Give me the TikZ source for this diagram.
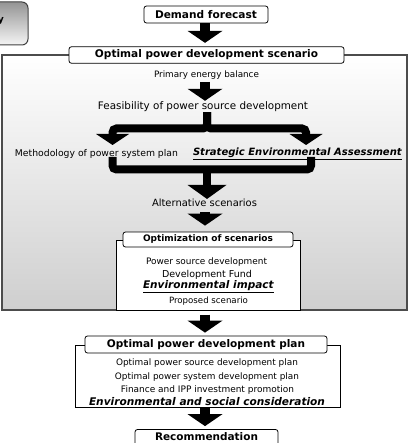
\documentclass[tikz,border=0pt]{standalone}
\usepackage{fontspec}
\setmainfont{DejaVu Sans}
\usetikzlibrary{arrows.meta,shadings}
\newcommand{\fw}[2]{\resizebox{#1pt}{!}{#2}}
\newcommand{\ebi}[1]{\underline{\textbf{\textit{#1}}}}
\tikzset{
  titlebox/.style={draw=black, line width=0.8pt, rounded corners=2.5pt, fill=white, inner sep=0pt},
  framebox/.style={draw=black, line width=0.8pt, fill=white, inner sep=0pt},
  txt/.style={inner sep=0pt},
  bigarrow/.style={line width=10pt, -{Triangle[width=35pt,length=12pt,line width=0pt]}},
  forkline/.style={line width=8pt, rounded corners=4pt},
  forkhead/.style={-{Triangle[width=33pt,length=11pt,line width=0pt]}},
  mergehead/.style={-{Triangle[width=39pt,length=14pt,line width=0pt]}}
}
\begin{document}
\begin{tikzpicture}[x=1pt,y=-1pt]
\useasboundingbox (0,0) rectangle (408,443);
% top-left tab
\shade[top color=black!42, bottom color=black!4, draw=black!75, line width=1pt, rounded corners=6pt] (-20,2) rectangle (28,45);
\node[txt] (ylab) at (1,21) {\fw{6}{\textbf{y}}};
% big gray panel
\node[draw=black!70, line width=1.4pt, top color=white, bottom color=black!19, minimum width=405pt, minimum height=255pt, inner sep=0pt] (panel) at (204.5,182.5) {};
% optimization frame
\node[framebox, minimum width=184pt, minimum height=70pt] (optframe) at (208,275) {};
% plan frame
\node[framebox, minimum width=265pt, minimum height=62pt] (planframe) at (207.5,376) {};
% title boxes
\node[titlebox, minimum width=124pt, minimum height=17pt] (demand) at (206,14.5) {\fw{102}{\textbf{Demand forecast}}};
\node[titlebox, minimum width=275pt, minimum height=16.5pt] (scen) at (206.5,55) {\fw{223}{\textbf{Optimal power development scenario}}};
\node[titlebox, minimum width=170pt, minimum height=15pt] (opt) at (208,239.5) {\fw{130}{\textbf{Optimization of scenarios}}};
\node[titlebox, minimum width=242pt, minimum height=17pt] (plan) at (206,344.5) {\fw{198}{\textbf{Optimal power development plan}}};
\node[titlebox, minimum width=143pt, minimum height=18pt] (rec) at (206.5,438.5) {};
\node[txt] (rectxt) at (206.5,437) {\fw{103}{\textbf{Recommendation}}};
% texts in panel
\node[txt] (prim) at (206.5,75) {\fw{105}{Primary energy balance}};
\node[txt] (feas) at (203,107) {\fw{210}{Feasibility of power source development}};
\node[txt] (meth) at (96.5,154) {\fw{163}{Methodology of power system plan}};
\node[txt] (sea) at (297.5,154) {\fw{209}{\ebi{Strategic Environmental Assessment}}};
\node[txt] (alt) at (204.5,203) {\fw{105}{Alternative scenarios}};
\node[txt] (psd) at (206.5,262) {\fw{121}{Power source development}};
\node[txt] (fund) at (207,275) {\fw{90}{Development Fund}};
\node[txt] (envi) at (208.5,287) {\fw{131}{\ebi{Environmental impact}}};
\node[txt] (prop) at (208.5,301) {\fw{79}{Proposed scenario}};
\node[txt] (ops) at (207,363) {\fw{182}{Optimal power source development plan}};
\node[txt] (osy) at (207,377) {\fw{184}{Optimal power system development plan}};
\node[txt] (fin) at (207.5,390) {\fw{173}{Finance and IPP investment promotion}};
\node[txt] (envs) at (207,403) {\fw{236}{\ebi{Environmental and social consideration}}};
% coordinates for fork and merge
\coordinate (bar) at (0,128.5);
\coordinate (fl) at (112.5,145);
\coordinate (fr) at (306,145);
\coordinate (ml) at (112.5,157);
\coordinate (mr) at (311,157);
\coordinate (mbar) at (0,169.5);
% arrows
\draw[bigarrow, shorten >=3.5pt] (demand.south -| 205,0) -- (scen.north -| 205,0);
\draw[bigarrow, shorten <=2.5pt, shorten >=1pt] (prim.south -| 205,0) -- (feas.north -| 205,0);
\draw[forkline, forkhead] (feas.south -| 207,0) -- (bar -| 207,0) -| (fl);
\draw[forkline, forkhead] (feas.south -| 207,0) -- (bar -| 207,0) -| (fr);
\draw[forkline] (ml) |- (mbar -| 207,0) -| (mr);
\draw[line width=8pt, mergehead] (mbar -| 207,0) -- (alt.north -| 207,0);
\draw[bigarrow, shorten <=5pt, shorten >=6pt] (alt.south -| 205,0) -- (opt.north -| 205,0);
\draw[bigarrow, shorten <=4pt, shorten >=3pt] (panel.south -| 205,0) -- (plan.north -| 205,0);
\draw[bigarrow, shorten <=1pt, shorten >=3pt] (planframe.south -| 205,0) -- (rec.north -| 205,0);
\end{tikzpicture}
\end{document}
